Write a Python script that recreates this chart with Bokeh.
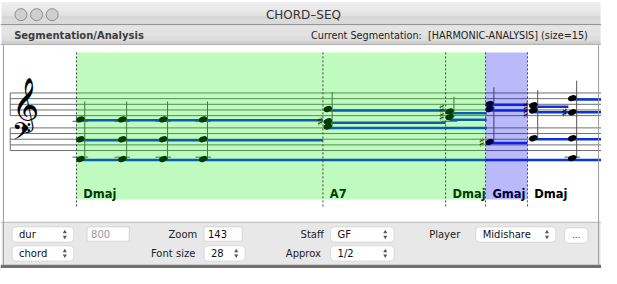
from bokeh.plotting import figure
from bokeh.models import BoxAnnotation, Range1d
from bokeh.core.properties import value
from bokeh.embed import file_html
from bokeh.resources import INLINE

# ---------------- data ----------------
window_title = "CHORD\u2013SEQ"
panel_title = "Segmentation/Analysis"
segmentation_info = "Current Segmentation:\u00a0 [HARMONIC-ANALYSIS] (size=15)"

seg_start = [78, 331, 457, 498, 541]
seg_end = [331, 457, 498, 541, 617]
seg_label = ["Dmaj", "A7", "Dmaj", "Gmaj", "Dmaj"]
seg_state = ["analysed", "analysed", "analysed", "selected", "plain"]

staff_lines = [98, 104, 110, 116, 122, 135, 141, 147, 153, 159]

chord_onset = [82, 125, 167, 208, 336, 461, 502, 547, 587]
chord_notes = [[126, 147, 168], [126, 147, 168], [126, 147, 168], [126, 147, 168],
               [115, 128, 133.5], [117.5, 123.5], [109.5, 115, 150],
               [111, 116.5, 146], [103.5, 118.5, 146, 167]]
chord_sharps = [[], [], [], [], [128], [114, 122.5], [150], [112, 120], [118.5]]
stem_top = [107, 107, 107, 107, 97, 102, 92, 95, 85]

ledger_onset = [82, 125, 167, 208, 461, 82, 125, 167, 208, 587]
ledger_pitch = [128, 128, 128, 128, 128, 166, 166, 166, 166, 166]

held_start = [82, 82, 82, 336, 336, 336, 461, 461, 502, 502, 502, 547, 547, 547, 587]
held_end = [331, 331, 617, 457, 457, 499, 499, 499, 541, 541, 541, 583, 617, 617, 617]
held_pitch = [127, 148, 169, 116.5, 129.5, 135, 119.5, 126.5, 110.5, 116.5, 151,
              112.5, 118.5, 147, 105]

popup_left = [12, 12, 209, 339, 339, 488]
popup_right = [75, 75, 251, 404, 404, 570]
popup_row = [0, 1, 1, 0, 1, 0]
popup_text = ["dur", "chord", "28", "GF", "1/2", "Midishare"]
field_left = [89, 209]
field_right = [132, 248]
field_text = ["800", "143"]
field_enabled = [False, True]
label_right = [202, 200, 332, 329, 472]
label_row = [0, 1, 0, 1, 0]
label_text = ["Zoom", "Font size", "Staff", "Approx", "Player"]
button_text = "..."

# ---------------- figure ----------------
p = figure(width=601, height=268, x_range=Range1d(0, 617), y_range=Range1d(284, 0),
           output_backend="svg", toolbar_location=None, min_border=0,
           x_axis_location=None, y_axis_location=None)
p.grid.visible = False
p.outline_line_color = None
p.background_fill_color = "#ffffff"
p.border_fill_color = "#ffffff"

FONT = value("DejaVu Sans")

# window chrome: title bar gradient
n = 24
tops, bots, cols = [], [], []
for i in range(n):
    t = i / (n - 1)
    g = int(round(236 - (236 - 206) * t))
    tops.append(1.5 + i)
    bots.append(2.5 + i)
    cols.append("#%02x%02x%02x" % (g, g, g))
p.quad(left=1, right=616, top=tops, bottom=bots, fill_color=cols, line_color=None)
p.segment(x0=0, x1=617, y0=25.5, y1=25.5, line_color="#8e8e8e", line_width=1)
# header bar
n2 = 20
tops2, bots2, cols2 = [], [], []
for i in range(n2):
    t = i / (n2 - 1)
    g = int(round(226 - (226 - 208) * t))
    tops2.append(26 + i)
    bots2.append(27 + i)
    cols2.append("#%02x%02x%02x" % (g, g, g))
p.quad(left=1, right=616, top=tops2, bottom=bots2, fill_color=cols2, line_color=None)
p.segment(x0=0, x1=617, y0=46.5, y1=46.5, line_color="#a8a8a8", line_width=1)

# traffic-light buttons
p.scatter(x=[21, 37, 53], y=[15, 15, 15], size=12, marker="circle",
          fill_color="#cfcfcf", line_color="#8c8c8c", line_width=1)
p.text(x=[311], y=[15], text=[window_title], text_font=FONT, text_font_size=value("12px"),
       text_align="center", text_baseline="middle", text_color="#333333")
p.text(x=[14], y=[37], text=[panel_title], text_font=FONT, text_font_size=value("10px"),
       text_font_style="bold", text_align="left", text_baseline="middle", text_color="#3c3c3c")
p.text(x=[603], y=[37], text=[segmentation_info], text_font=FONT, text_font_size=value("9.7px"),
       text_align="right", text_baseline="middle", text_color="#222222")

# staff
p.segment(x0=10, x1=617, y0=staff_lines, y1=staff_lines, line_color="#707070", line_width=1)
p.segment(x0=[10, 10], x1=[10, 10], y0=[98, 135], y1=[122, 159], line_color="#707070", line_width=1)
p.text(x=[12], y=[110], text=["\U0001D11E"], text_font=FONT, text_font_size=value("46px"),
       text_align="left", text_baseline="middle", text_color="#000000")
p.text(x=[12], y=[142], text=["\U0001D122"], text_font=FONT, text_font_size=value("30px"),
       text_align="left", text_baseline="middle", text_color="#000000")

# ledger lines
p.segment(x0=[x - 8 for x in ledger_onset], x1=[x + 8 for x in ledger_onset],
          y0=ledger_pitch, y1=ledger_pitch, line_color="#555555", line_width=1)

# held notes (blue duration lines)
p.segment(x0=held_start, x1=held_end, y0=held_pitch, y1=held_pitch,
          line_color="#0a32e6", line_width=2.5)

# stems
stem_x, stem_bottom = [], []
for x, notes in zip(chord_onset, chord_notes):
    stem_x.append(x + 4.5)
    stem_bottom.append(max(notes))
p.segment(x0=stem_x, x1=stem_x, y0=stem_top, y1=stem_bottom, line_color="#555555", line_width=1)

# note heads
hx, hy = [], []
for x, notes in zip(chord_onset, chord_notes):
    for yv in notes:
        hx.append(x)
        hy.append(yv)
p.ellipse(x=hx, y=hy, width=9, height=6, angle=0.35, fill_color="#000000", line_color=None)

# sharps
sx, sy = [], []
for x, sh in zip(chord_onset, chord_sharps):
    for yv in sh:
        sx.append(x - 8)
        sy.append(yv)
p.text(x=sx, y=sy, text=["\u266f"] * len(sx), text_font=FONT, text_font_size=value("13px"),
       text_align="center", text_baseline="middle", text_color="#000000")

# segment labels
p.text(x=[s + 7 for s in seg_start], y=[205] * len(seg_start), text=seg_label, text_font=FONT,
       text_font_size=value("11.5px"), text_font_style="bold", text_align="left",
       text_baseline="middle", text_color="#000000")

# segment overlays
gl = [s for s, st in zip(seg_start, seg_state) if st == "analysed"]
gr = [e for e, st in zip(seg_end, seg_state) if st == "analysed"]
p.quad(left=gl, right=gr, top=55, bottom=211, fill_color="#00eb00", fill_alpha=0.25, line_color=None)
pl = [s for s, st in zip(seg_start, seg_state) if st == "selected"]
pr = [e for e, st in zip(seg_end, seg_state) if st == "selected"]
p.quad(left=pl, right=pr, top=55, bottom=211, fill_color="#0000ec", fill_alpha=0.27, line_color=None)

# segment boundaries
p.segment(x0=seg_start, x1=seg_start, y0=55, y1=219, line_color="#444444", line_width=1,
          line_dash="2 2")

# control panel
p.quad(left=1, right=616, top=235, bottom=280, fill_color="#e8e8e8", line_color=None)
p.segment(x0=0, x1=617, y0=235, y1=235, line_color="#b8b8b8", line_width=1)
p.quad(left=0, right=617, top=280, bottom=284, fill_color="#707070", line_color=None)
# window side borders
p.segment(x0=[3, 614], x1=[3, 614], y0=47, y1=280, line_color="#9a9a9a", line_width=1)

row_y = [248, 268]
for l, r, row in zip(popup_left, popup_right, popup_row):
    yc = row_y[row]
    p.add_layout(BoxAnnotation(left=l, right=r, top=yc - 8, bottom=yc + 8, fill_color="#ffffff",
                               fill_alpha=1, line_color="#a4a4a4", line_width=1,
                               border_radius=4))
for l, r in zip(field_left, field_right):
    p.add_layout(BoxAnnotation(left=l, right=r, top=240, bottom=255, fill_color="#ffffff",
                               fill_alpha=1, line_color="#9a9a9a", line_width=1))
p.add_layout(BoxAnnotation(left=579, right=603, top=241, bottom=257, fill_color="#ffffff",
                           fill_alpha=1, line_color="#a4a4a4", line_width=1, border_radius=4))

CF = value("10px")
p.text(x=[l + 7 for l in popup_left], y=[row_y[r] for r in popup_row], text=popup_text,
       text_font=FONT, text_font_size=CF, text_align="left", text_baseline="middle",
       text_color="#111111", level="overlay")
ax = [r - 9 for r in popup_right]
ay = [row_y[r] for r in popup_row]
p.scatter(x=ax, y=[v - 2.5 for v in ay], marker="triangle", size=4, fill_color="#555555",
          line_color=None, level="overlay")
p.scatter(x=ax, y=[v + 2.5 for v in ay], marker="inverted_triangle", size=4,
          fill_color="#555555", line_color=None, level="overlay")
p.text(x=[l + 4 for l in field_left], y=[247.5, 247.5], text=field_text, text_font=FONT,
       text_font_size=CF, text_align="left", text_baseline="middle",
       text_color=["#9a9a9a" if not e else "#111111" for e in field_enabled], level="overlay")
p.text(x=label_right, y=[row_y[r] for r in label_row], text=label_text, text_font=FONT,
       text_font_size=CF, text_align="right", text_baseline="middle", text_color="#222222",
       level="overlay")
p.text(x=[591], y=[248], text=[button_text], text_font=FONT, text_font_size=value("9px"),
       text_align="center", text_baseline="middle", text_color="#333333", level="overlay")

open("out.html", "w").write(file_html(p, INLINE))
